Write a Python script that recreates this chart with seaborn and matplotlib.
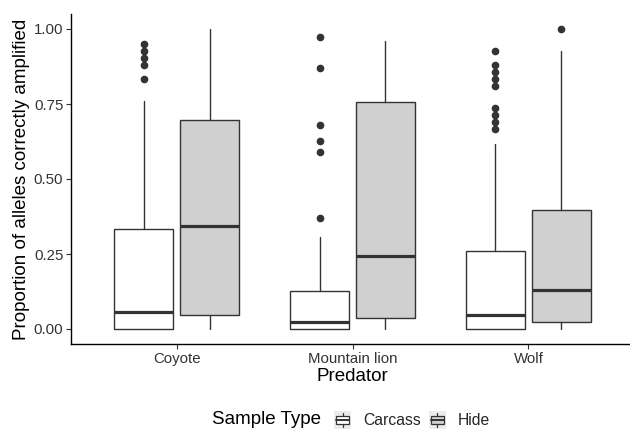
import matplotlib
matplotlib.use("Agg")
import matplotlib.pyplot as plt
from matplotlib.patches import Rectangle
from matplotlib.lines import Line2D
from matplotlib.legend_handler import HandlerBase
import seaborn as sns

# ---- data ----
predators = ["Coyote", "Mountain lion", "Wolf"]
sample_types = ["Carcass", "Hide"]

carcass_whislo = [0.0, 0.0, 0.0]
carcass_q1 = [0.0, 0.0, 0.0]
carcass_med = [0.058, 0.024, 0.048]
carcass_q3 = [0.332, 0.127, 0.261]
carcass_whishi = [0.76, 0.306, 0.617]
carcass_fliers = [
    [0.951, 0.928, 0.904, 0.88, 0.832],
    [0.974, 0.871, 0.679, 0.628, 0.589, 0.371],
    [0.928, 0.88, 0.857, 0.833, 0.81, 0.738, 0.714, 0.69, 0.667],
]

hide_whislo = [0.0, 0.0, 0.0]
hide_q1 = [0.048, 0.038, 0.023]
hide_med = [0.343, 0.243, 0.13]
hide_q3 = [0.696, 0.756, 0.398]
hide_whishi = [1.0, 0.961, 0.928]
hide_fliers = [[], [], [1.0]]

y_ticks = [0.00, 0.25, 0.50, 0.75, 1.00]
y_ticklabels = ["0.00", "0.25", "0.50", "0.75", "1.00"]

fill_colors = {"Carcass": "#FFFFFF", "Hide": "#D0D0D0"}
line_col = "#333333"

sns.set_theme(style="ticks")
plt.rcParams["font.family"] = ["Liberation Sans", "DejaVu Sans"]

fig = plt.figure(figsize=(6.3, 4.3), dpi=100)
W, H = 630, 430
ax = fig.add_axes([71 / W, 1 - 344 / H, 563 / W, 330 / H])


def make_stats(wl, q1, med, q3, wh, fl):
    return [dict(whislo=a, q1=b, med=c, q3=d, whishi=e, fliers=f)
            for a, b, c, d, e, f in zip(wl, q1, med, q3, wh, fl)]


groups = {
    "Carcass": make_stats(carcass_whislo, carcass_q1, carcass_med, carcass_q3,
                          carcass_whishi, carcass_fliers),
    "Hide": make_stats(hide_whislo, hide_q1, hide_med, hide_q3,
                       hide_whishi, hide_fliers),
}
offsets = {"Carcass": -0.1875, "Hide": 0.1875}

for st in sample_types:
    pos = [i + offsets[st] for i in range(len(predators))]
    ax.bxp(groups[st], positions=pos, widths=0.3375, patch_artist=True,
           showcaps=False,
           boxprops=dict(facecolor=fill_colors[st], edgecolor=line_col, linewidth=1.0),
           medianprops=dict(color=line_col, linewidth=2.3, solid_capstyle="butt"),
           whiskerprops=dict(color=line_col, linewidth=1.0),
           flierprops=dict(marker="o", markerfacecolor=line_col,
                           markeredgecolor=line_col, markersize=4.5),
           manage_ticks=False, zorder=2)

ax.set_xlim(-0.6, 2.6)
ax.set_ylim(-0.05, 1.05)
ax.set_xticks(range(len(predators)))
ax.set_xticklabels(predators)
ax.set_yticks(y_ticks)
ax.set_yticklabels(y_ticklabels)
ax.tick_params(axis="both", labelsize=10.8, colors="#333333", length=3.5,
               width=0.8, labelcolor="#333333", pad=2)
for s in ["top", "right"]:
    ax.spines[s].set_visible(False)
for s in ["left", "bottom"]:
    ax.spines[s].set_color("black")
    ax.spines[s].set_linewidth(1.0)
ax.set_xlabel("Predator", fontsize=13.5, color="black", labelpad=2)
ax.set_ylabel("Proportion of alleles correctly amplified", fontsize=13.5,
              color="black", labelpad=3)


class BoxKeyHandler(HandlerBase):
    def create_artists(self, legend, orig_handle, xdescent, ydescent,
                       width, height, fontsize, trans):
        fc = orig_handle.get_facecolor()
        bg = Rectangle((-xdescent, -ydescent), width, height,
                       facecolor="#EBEBEB", edgecolor="none", transform=trans)
        cx = -xdescent + width / 2
        wl = Line2D([cx, cx], [-ydescent + 0.08 * height, -ydescent + 0.92 * height],
                    color=line_col, lw=0.9, transform=trans)
        box = Rectangle((-xdescent + 0.12 * width, -ydescent + 0.25 * height),
                        0.76 * width, 0.5 * height, facecolor=fc,
                        edgecolor=line_col, lw=0.9, transform=trans)
        med = Line2D([-xdescent + 0.12 * width, -xdescent + 0.88 * width],
                     [-ydescent + 0.5 * height] * 2, color=line_col, lw=1.4,
                     transform=trans)
        return [bg, wl, box, med]


handles = [Rectangle((0, 0), 1, 1, facecolor=fill_colors[st]) for st in sample_types]
fig.text(212 / W, 1 - 420 / H, "Sample Type", fontsize=13.5, color="black",
         ha="left", va="center")
fig.legend(handles, sample_types, handler_map={Rectangle: BoxKeyHandler()},
           loc="center left", bbox_to_anchor=(334 / W, 1 - 420 / H), ncol=2,
           frameon=False, fontsize=11.3, handlelength=1.1, handleheight=1.3,
           handletextpad=0.75, columnspacing=0.5, borderaxespad=0, borderpad=0)

fig.savefig("out.png", dpi=100)
